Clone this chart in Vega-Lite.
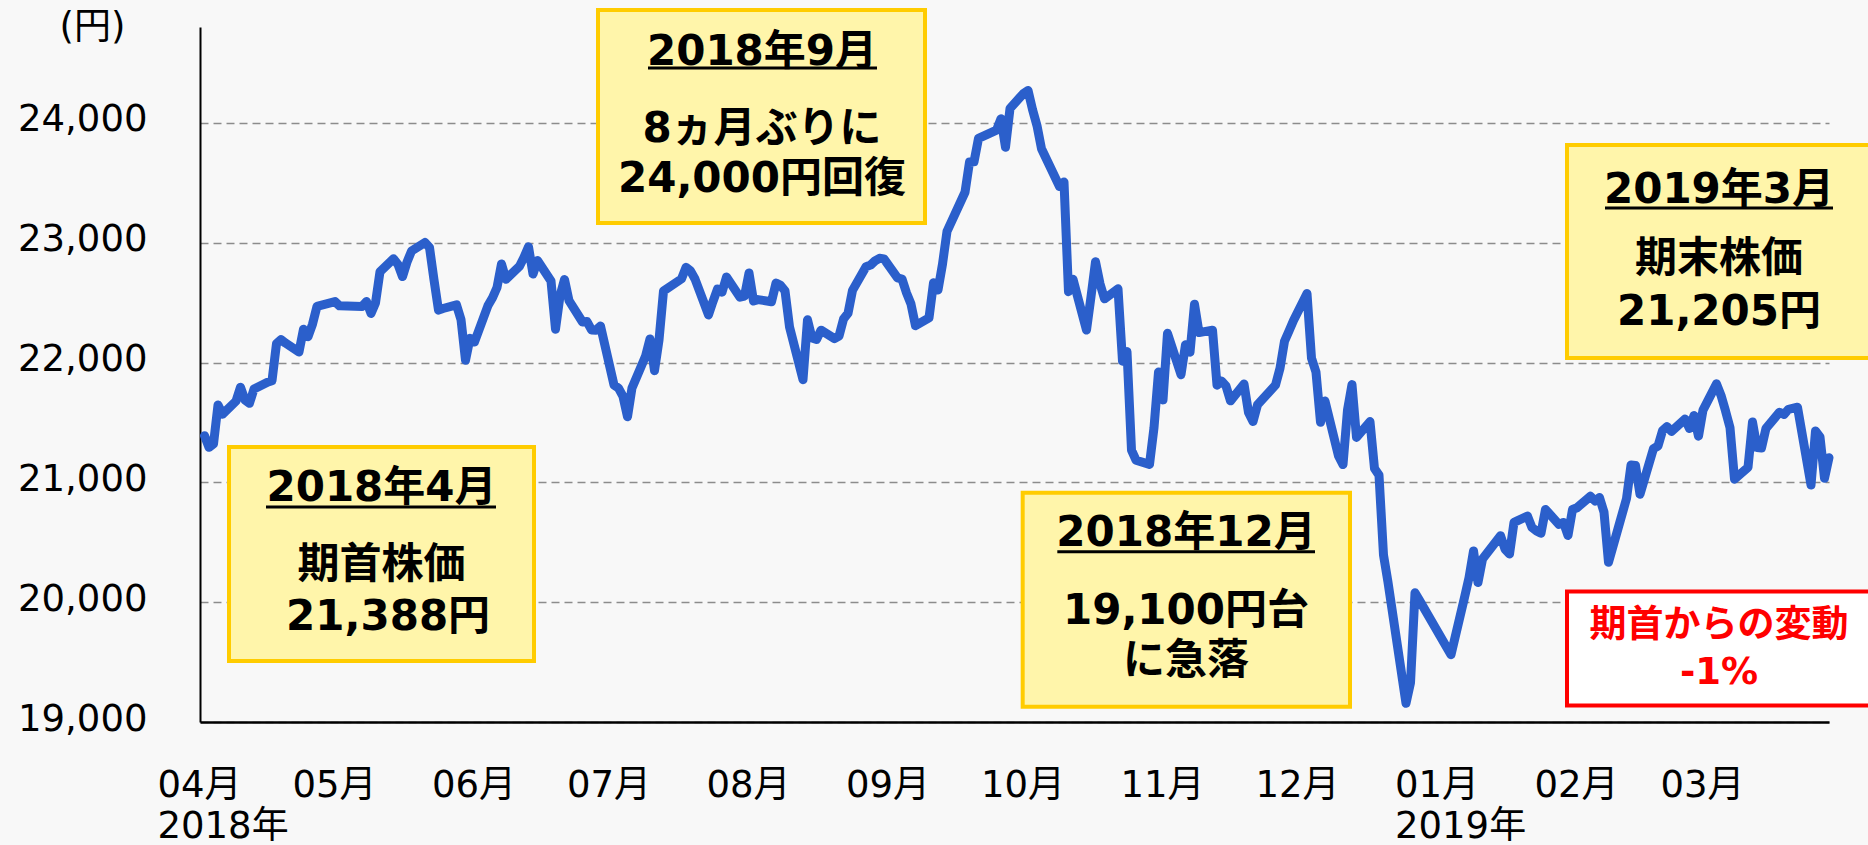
{
  "$schema": "https://vega.github.io/schema/vega-lite/v6.json",
  "width": 1629,
  "height": 695,
  "autosize": {"type": "none"},
  "padding": {"left": 200, "top": 27, "right": 39, "bottom": 123},
  "background": "#F8F8F8",
  "config": {
    "view": {"stroke": null},
    "font": "DejaVu Sans, Noto Sans CJK JP"
  },
  "datasets": {
    "prices": [
      {"date": "2018-04-02", "close": 21389}, {"date": "2018-04-03", "close": 21292}, {"date": "2018-04-04", "close": 21320}, {"date": "2018-04-05", "close": 21645}, {"date": "2018-04-06", "close": 21568},
      {"date": "2018-04-09", "close": 21678}, {"date": "2018-04-10", "close": 21794}, {"date": "2018-04-11", "close": 21687}, {"date": "2018-04-12", "close": 21660}, {"date": "2018-04-13", "close": 21779},
      {"date": "2018-04-16", "close": 21836}, {"date": "2018-04-17", "close": 21848}, {"date": "2018-04-18", "close": 22158}, {"date": "2018-04-19", "close": 22191}, {"date": "2018-04-20", "close": 22162},
      {"date": "2018-04-23", "close": 22088}, {"date": "2018-04-24", "close": 22278}, {"date": "2018-04-25", "close": 22215}, {"date": "2018-04-26", "close": 22320}, {"date": "2018-04-27", "close": 22468},
      {"date": "2018-05-01", "close": 22508}, {"date": "2018-05-02", "close": 22473}, {"date": "2018-05-07", "close": 22467}, {"date": "2018-05-08", "close": 22509}, {"date": "2018-05-09", "close": 22409},
      {"date": "2018-05-10", "close": 22497}, {"date": "2018-05-11", "close": 22758}, {"date": "2018-05-14", "close": 22866}, {"date": "2018-05-15", "close": 22818}, {"date": "2018-05-16", "close": 22717},
      {"date": "2018-05-17", "close": 22838}, {"date": "2018-05-18", "close": 22930}, {"date": "2018-05-21", "close": 23002}, {"date": "2018-05-22", "close": 22960}, {"date": "2018-05-23", "close": 22690},
      {"date": "2018-05-24", "close": 22437}, {"date": "2018-05-25", "close": 22451}, {"date": "2018-05-28", "close": 22481}, {"date": "2018-05-29", "close": 22358}, {"date": "2018-05-30", "close": 22019},
      {"date": "2018-05-31", "close": 22202}, {"date": "2018-06-01", "close": 22171}, {"date": "2018-06-04", "close": 22476}, {"date": "2018-06-05", "close": 22540}, {"date": "2018-06-06", "close": 22626},
      {"date": "2018-06-07", "close": 22823}, {"date": "2018-06-08", "close": 22695}, {"date": "2018-06-11", "close": 22804}, {"date": "2018-06-12", "close": 22878}, {"date": "2018-06-13", "close": 22966},
      {"date": "2018-06-14", "close": 22739}, {"date": "2018-06-15", "close": 22852}, {"date": "2018-06-18", "close": 22680}, {"date": "2018-06-19", "close": 22278}, {"date": "2018-06-20", "close": 22555},
      {"date": "2018-06-21", "close": 22693}, {"date": "2018-06-22", "close": 22517}, {"date": "2018-06-25", "close": 22338}, {"date": "2018-06-26", "close": 22342}, {"date": "2018-06-27", "close": 22272},
      {"date": "2018-06-28", "close": 22270}, {"date": "2018-06-29", "close": 22305}, {"date": "2018-07-02", "close": 21812}, {"date": "2018-07-03", "close": 21786}, {"date": "2018-07-04", "close": 21717},
      {"date": "2018-07-05", "close": 21547}, {"date": "2018-07-06", "close": 21788}, {"date": "2018-07-09", "close": 22052}, {"date": "2018-07-10", "close": 22197}, {"date": "2018-07-11", "close": 21932},
      {"date": "2018-07-12", "close": 22188}, {"date": "2018-07-13", "close": 22597}, {"date": "2018-07-17", "close": 22698}, {"date": "2018-07-18", "close": 22794}, {"date": "2018-07-19", "close": 22765},
      {"date": "2018-07-20", "close": 22697}, {"date": "2018-07-23", "close": 22397}, {"date": "2018-07-24", "close": 22510}, {"date": "2018-07-25", "close": 22614}, {"date": "2018-07-26", "close": 22587},
      {"date": "2018-07-27", "close": 22713}, {"date": "2018-07-30", "close": 22545}, {"date": "2018-07-31", "close": 22554}, {"date": "2018-08-01", "close": 22747}, {"date": "2018-08-02", "close": 22513},
      {"date": "2018-08-03", "close": 22525}, {"date": "2018-08-06", "close": 22507}, {"date": "2018-08-07", "close": 22663}, {"date": "2018-08-08", "close": 22644}, {"date": "2018-08-09", "close": 22598},
      {"date": "2018-08-10", "close": 22298}, {"date": "2018-08-13", "close": 21857}, {"date": "2018-08-14", "close": 22356}, {"date": "2018-08-15", "close": 22204}, {"date": "2018-08-16", "close": 22192},
      {"date": "2018-08-17", "close": 22270}, {"date": "2018-08-20", "close": 22199}, {"date": "2018-08-21", "close": 22220}, {"date": "2018-08-22", "close": 22363}, {"date": "2018-08-23", "close": 22411},
      {"date": "2018-08-24", "close": 22602}, {"date": "2018-08-27", "close": 22800}, {"date": "2018-08-28", "close": 22813}, {"date": "2018-08-29", "close": 22848}, {"date": "2018-08-30", "close": 22870},
      {"date": "2018-08-31", "close": 22865}, {"date": "2018-09-03", "close": 22707}, {"date": "2018-09-04", "close": 22697}, {"date": "2018-09-05", "close": 22581}, {"date": "2018-09-06", "close": 22488},
      {"date": "2018-09-07", "close": 22307}, {"date": "2018-09-10", "close": 22373}, {"date": "2018-09-11", "close": 22665}, {"date": "2018-09-12", "close": 22605}, {"date": "2018-09-13", "close": 22821},
      {"date": "2018-09-14", "close": 23095}, {"date": "2018-09-18", "close": 23421}, {"date": "2018-09-19", "close": 23673}, {"date": "2018-09-20", "close": 23675}, {"date": "2018-09-21", "close": 23870},
      {"date": "2018-09-25", "close": 23940}, {"date": "2018-09-26", "close": 24034}, {"date": "2018-09-27", "close": 23797}, {"date": "2018-09-28", "close": 24120}, {"date": "2018-10-01", "close": 24246},
      {"date": "2018-10-02", "close": 24271}, {"date": "2018-10-03", "close": 24111}, {"date": "2018-10-04", "close": 23976}, {"date": "2018-10-05", "close": 23784}, {"date": "2018-10-09", "close": 23469},
      {"date": "2018-10-10", "close": 23506}, {"date": "2018-10-11", "close": 22591}, {"date": "2018-10-12", "close": 22695}, {"date": "2018-10-15", "close": 22271}, {"date": "2018-10-16", "close": 22549},
      {"date": "2018-10-17", "close": 22841}, {"date": "2018-10-18", "close": 22658}, {"date": "2018-10-19", "close": 22532}, {"date": "2018-10-22", "close": 22615}, {"date": "2018-10-23", "close": 22011},
      {"date": "2018-10-24", "close": 22091}, {"date": "2018-10-25", "close": 21269}, {"date": "2018-10-26", "close": 21185}, {"date": "2018-10-29", "close": 21150}, {"date": "2018-10-30", "close": 21457},
      {"date": "2018-10-31", "close": 21920}, {"date": "2018-11-01", "close": 21688}, {"date": "2018-11-02", "close": 22244}, {"date": "2018-11-05", "close": 21899}, {"date": "2018-11-06", "close": 22148},
      {"date": "2018-11-07", "close": 22086}, {"date": "2018-11-08", "close": 22487}, {"date": "2018-11-09", "close": 22250}, {"date": "2018-11-12", "close": 22270}, {"date": "2018-11-13", "close": 21811},
      {"date": "2018-11-14", "close": 21846}, {"date": "2018-11-15", "close": 21804}, {"date": "2018-11-16", "close": 21680}, {"date": "2018-11-19", "close": 21821}, {"date": "2018-11-20", "close": 21583},
      {"date": "2018-11-21", "close": 21508}, {"date": "2018-11-22", "close": 21647}, {"date": "2018-11-26", "close": 21812}, {"date": "2018-11-27", "close": 21952}, {"date": "2018-11-28", "close": 22177},
      {"date": "2018-11-29", "close": 22263}, {"date": "2018-11-30", "close": 22351}, {"date": "2018-12-03", "close": 22575}, {"date": "2018-12-04", "close": 22036}, {"date": "2018-12-05", "close": 21919},
      {"date": "2018-12-06", "close": 21502}, {"date": "2018-12-07", "close": 21679}, {"date": "2018-12-10", "close": 21220}, {"date": "2018-12-11", "close": 21148}, {"date": "2018-12-12", "close": 21603},
      {"date": "2018-12-13", "close": 21816}, {"date": "2018-12-14", "close": 21375}, {"date": "2018-12-17", "close": 21507}, {"date": "2018-12-18", "close": 21115}, {"date": "2018-12-19", "close": 21060},
      {"date": "2018-12-20", "close": 20393}, {"date": "2018-12-21", "close": 20166}, {"date": "2018-12-25", "close": 19156}, {"date": "2018-12-26", "close": 19327}, {"date": "2018-12-27", "close": 20078},
      {"date": "2018-12-28", "close": 20015}, {"date": "2019-01-04", "close": 19562}, {"date": "2019-01-07", "close": 20039}, {"date": "2019-01-08", "close": 20204}, {"date": "2019-01-09", "close": 20427},
      {"date": "2019-01-10", "close": 20164}, {"date": "2019-01-11", "close": 20360}, {"date": "2019-01-15", "close": 20555}, {"date": "2019-01-16", "close": 20443}, {"date": "2019-01-17", "close": 20402},
      {"date": "2019-01-18", "close": 20666}, {"date": "2019-01-21", "close": 20719}, {"date": "2019-01-22", "close": 20623}, {"date": "2019-01-23", "close": 20594}, {"date": "2019-01-24", "close": 20575},
      {"date": "2019-01-25", "close": 20774}, {"date": "2019-01-28", "close": 20649}, {"date": "2019-01-29", "close": 20665}, {"date": "2019-01-30", "close": 20557}, {"date": "2019-01-31", "close": 20773},
      {"date": "2019-02-01", "close": 20788}, {"date": "2019-02-04", "close": 20884}, {"date": "2019-02-05", "close": 20844}, {"date": "2019-02-06", "close": 20874}, {"date": "2019-02-07", "close": 20751},
      {"date": "2019-02-08", "close": 20333}, {"date": "2019-02-12", "close": 20864}, {"date": "2019-02-13", "close": 21144}, {"date": "2019-02-14", "close": 21140}, {"date": "2019-02-15", "close": 20901},
      {"date": "2019-02-18", "close": 21282}, {"date": "2019-02-19", "close": 21303}, {"date": "2019-02-20", "close": 21431}, {"date": "2019-02-21", "close": 21464}, {"date": "2019-02-22", "close": 21425},
      {"date": "2019-02-25", "close": 21528}, {"date": "2019-02-26", "close": 21449}, {"date": "2019-02-27", "close": 21557}, {"date": "2019-02-28", "close": 21385}, {"date": "2019-03-01", "close": 21603},
      {"date": "2019-03-04", "close": 21822}, {"date": "2019-03-05", "close": 21726}, {"date": "2019-03-06", "close": 21597}, {"date": "2019-03-07", "close": 21456}, {"date": "2019-03-08", "close": 21026},
      {"date": "2019-03-11", "close": 21125}, {"date": "2019-03-12", "close": 21504}, {"date": "2019-03-13", "close": 21290}, {"date": "2019-03-14", "close": 21287}, {"date": "2019-03-15", "close": 21451},
      {"date": "2019-03-18", "close": 21585}, {"date": "2019-03-19", "close": 21567}, {"date": "2019-03-20", "close": 21609}, {"date": "2019-03-22", "close": 21627}, {"date": "2019-03-25", "close": 20977},
      {"date": "2019-03-26", "close": 21428}, {"date": "2019-03-27", "close": 21379}, {"date": "2019-03-28", "close": 21034}, {"date": "2019-03-29", "close": 21206}
    ],
    "boxes": [
      {"start": "2018-04-07T10:40:00Z", "end": "2018-06-14T05:20:00Z", "top": 21295, "bottom": 19509, "kind": "note"},
      {"start": "2018-06-28T10:40:00Z", "end": "2018-09-09T02:40:00Z", "top": 24942, "bottom": 23164, "kind": "note"},
      {"start": "2018-09-30T19:40:00Z", "end": "2018-12-12T13:20:00Z", "top": 20913, "bottom": 19128, "kind": "note"},
      {"start": "2019-01-29T18:40:00Z", "end": "2019-04-07T13:20:00Z", "top": 23815, "bottom": 22038, "kind": "note"},
      {"start": "2019-01-29T18:40:00Z", "end": "2019-04-07T13:20:00Z", "top": 20089, "bottom": 19138, "kind": "change"}
    ],
    "underlines": [
      {"start": "2018-04-15T16:00:00Z", "end": "2018-06-05T18:40:00Z", "value": 20794},
      {"start": "2018-07-09T13:20:00Z", "end": "2018-08-29T10:40:00Z", "value": 24458},
      {"start": "2018-10-08T12:20:00Z", "end": "2018-12-04T18:40:00Z", "value": 20421},
      {"start": "2019-02-07T05:20:00Z", "end": "2019-03-29T21:20:00Z", "value": 23289}
    ],
    "notes": [
      {"date": "2018-05-11T08:00:00Z", "value": 20953, "text": "2018年4月"},
      {"date": "2018-05-11T08:00:00Z", "value": 20310, "text": "期首株価"},
      {"date": "2018-05-12T19:00:00Z", "value": 19876, "text": "21,388円"},
      {"date": "2018-08-03T21:20:00Z", "value": 24591, "text": "2018年9月"},
      {"date": "2018-08-03T21:20:00Z", "value": 23949, "text": "8ヵ月ぶりに"},
      {"date": "2018-08-03T21:20:00Z", "value": 23531, "text": "24,000円回復"},
      {"date": "2018-11-06T02:40:00Z", "value": 20577, "text": "2018年12月"},
      {"date": "2018-11-06T02:40:00Z", "value": 19926, "text": "19,100円台"},
      {"date": "2018-11-06T02:40:00Z", "value": 19509, "text": "に急落"},
      {"date": "2019-03-04T13:20:00Z", "value": 23440, "text": "2019年3月"},
      {"date": "2019-03-04T13:20:00Z", "value": 22864, "text": "期末株価"},
      {"date": "2019-03-04T13:20:00Z", "value": 22422, "text": "21,205円"}
    ],
    "change": [
      {"date": "2019-03-04T13:20:00Z", "value": 19801, "text": "期首からの変動"},
      {"date": "2019-03-04T13:20:00Z", "value": 19409, "text": "-1%"}
    ]
  },
  "layer": [
    {
      "data": {"name": "prices"},
      "mark": {"type": "line", "color": "#2B5FCB", "strokeWidth": 9, "strokeJoin": "round", "strokeCap": "round"},
      "encoding": {
        "x": {
          "field": "date", "type": "temporal",
          "scale": {"type": "utc", "domain": [{"year": 2018, "month": 4, "date": 1, "utc": true}, {"year": 2019, "month": 3, "date": 29, "utc": true}], "nice": false},
          "axis": {
            "title": null,
            "tickCount": {"interval": "month", "step": 1},
            "labelExpr": "[utcFormat(datum.value, '%m') + '月', (utcmonth(datum.value) == 3 || utcmonth(datum.value) == 0) ? utcFormat(datum.value, '%Y') + '年' : '']",
            "labelFont": "DejaVu Sans, Noto Sans CJK JP",
            "labelFontSize": 37,
            "labelColor": "#000000",
            "labelAlign": "left",
            "labelBaseline": "top",
            "labelOffset": -43,
            "labelPadding": 45,
            "labelLineHeight": 41,
            "labelFlush": false,
            "labelOverlap": false,
            "ticks": false,
            "grid": false,
            "domainColor": "#000000",
            "domainWidth": 2.5
          }
        },
        "y": {
          "field": "close", "type": "quantitative",
          "scale": {"domain": [19000, 24800], "nice": false, "zero": false},
          "axis": {
            "title": "(円)",
            "titleAngle": 0,
            "titleX": -108,
            "titleY": 0,
            "titleAlign": "center",
            "titleBaseline": "middle",
            "titleFont": "DejaVu Sans, Noto Sans CJK JP",
            "titleFontSize": 37,
            "titleFontWeight": "normal",
            "titleColor": "#000000",
            "values": [19000, 20000, 21000, 22000, 23000, 24000],
            "format": ",d",
            "labelFont": "DejaVu Sans",
            "labelFontSize": 37,
            "labelColor": "#000000",
            "labelPadding": 53,
            "labelOffset": -3,
            "ticks": false,
            "grid": true,
            "gridDash": [8, 5],
            "gridColor": "#8C8C8C",
            "gridWidth": 1.5,
            "domainColor": "#000000",
            "domainWidth": 2
          }
        }
      }
    },
    {
      "data": {"name": "boxes"},
      "mark": {"type": "rect", "strokeWidth": 4},
      "encoding": {
        "x": {"field": "start", "type": "temporal"},
        "x2": {"field": "end"},
        "y": {"field": "top", "type": "quantitative"},
        "y2": {"field": "bottom"},
        "fill": {"field": "kind", "type": "nominal", "scale": {"domain": ["note", "change"], "range": ["#FFF5AA", "#FFFFFF"]}, "legend": null},
        "stroke": {"field": "kind", "type": "nominal", "scale": {"domain": ["note", "change"], "range": ["#FFCC00", "#FF0000"]}, "legend": null}
      }
    },
    {
      "data": {"name": "underlines"},
      "mark": {"type": "rule", "color": "#000000", "strokeWidth": 3},
      "encoding": {
        "x": {"field": "start", "type": "temporal"},
        "x2": {"field": "end"},
        "y": {"field": "value", "type": "quantitative"}
      }
    },
    {
      "data": {"name": "notes"},
      "mark": {"type": "text", "font": "DejaVu Sans, Noto Sans CJK JP", "fontSize": 42, "fontWeight": "bold", "color": "#000000", "align": "center", "baseline": "middle"},
      "encoding": {
        "x": {"field": "date", "type": "temporal"},
        "y": {"field": "value", "type": "quantitative"},
        "text": {"field": "text"}
      }
    },
    {
      "data": {"name": "change"},
      "mark": {"type": "text", "font": "DejaVu Sans, Noto Sans CJK JP", "fontSize": 37, "fontWeight": "bold", "color": "#FF0000", "align": "center", "baseline": "middle"},
      "encoding": {
        "x": {"field": "date", "type": "temporal"},
        "y": {"field": "value", "type": "quantitative"},
        "text": {"field": "text"}
      }
    }
  ]
}
